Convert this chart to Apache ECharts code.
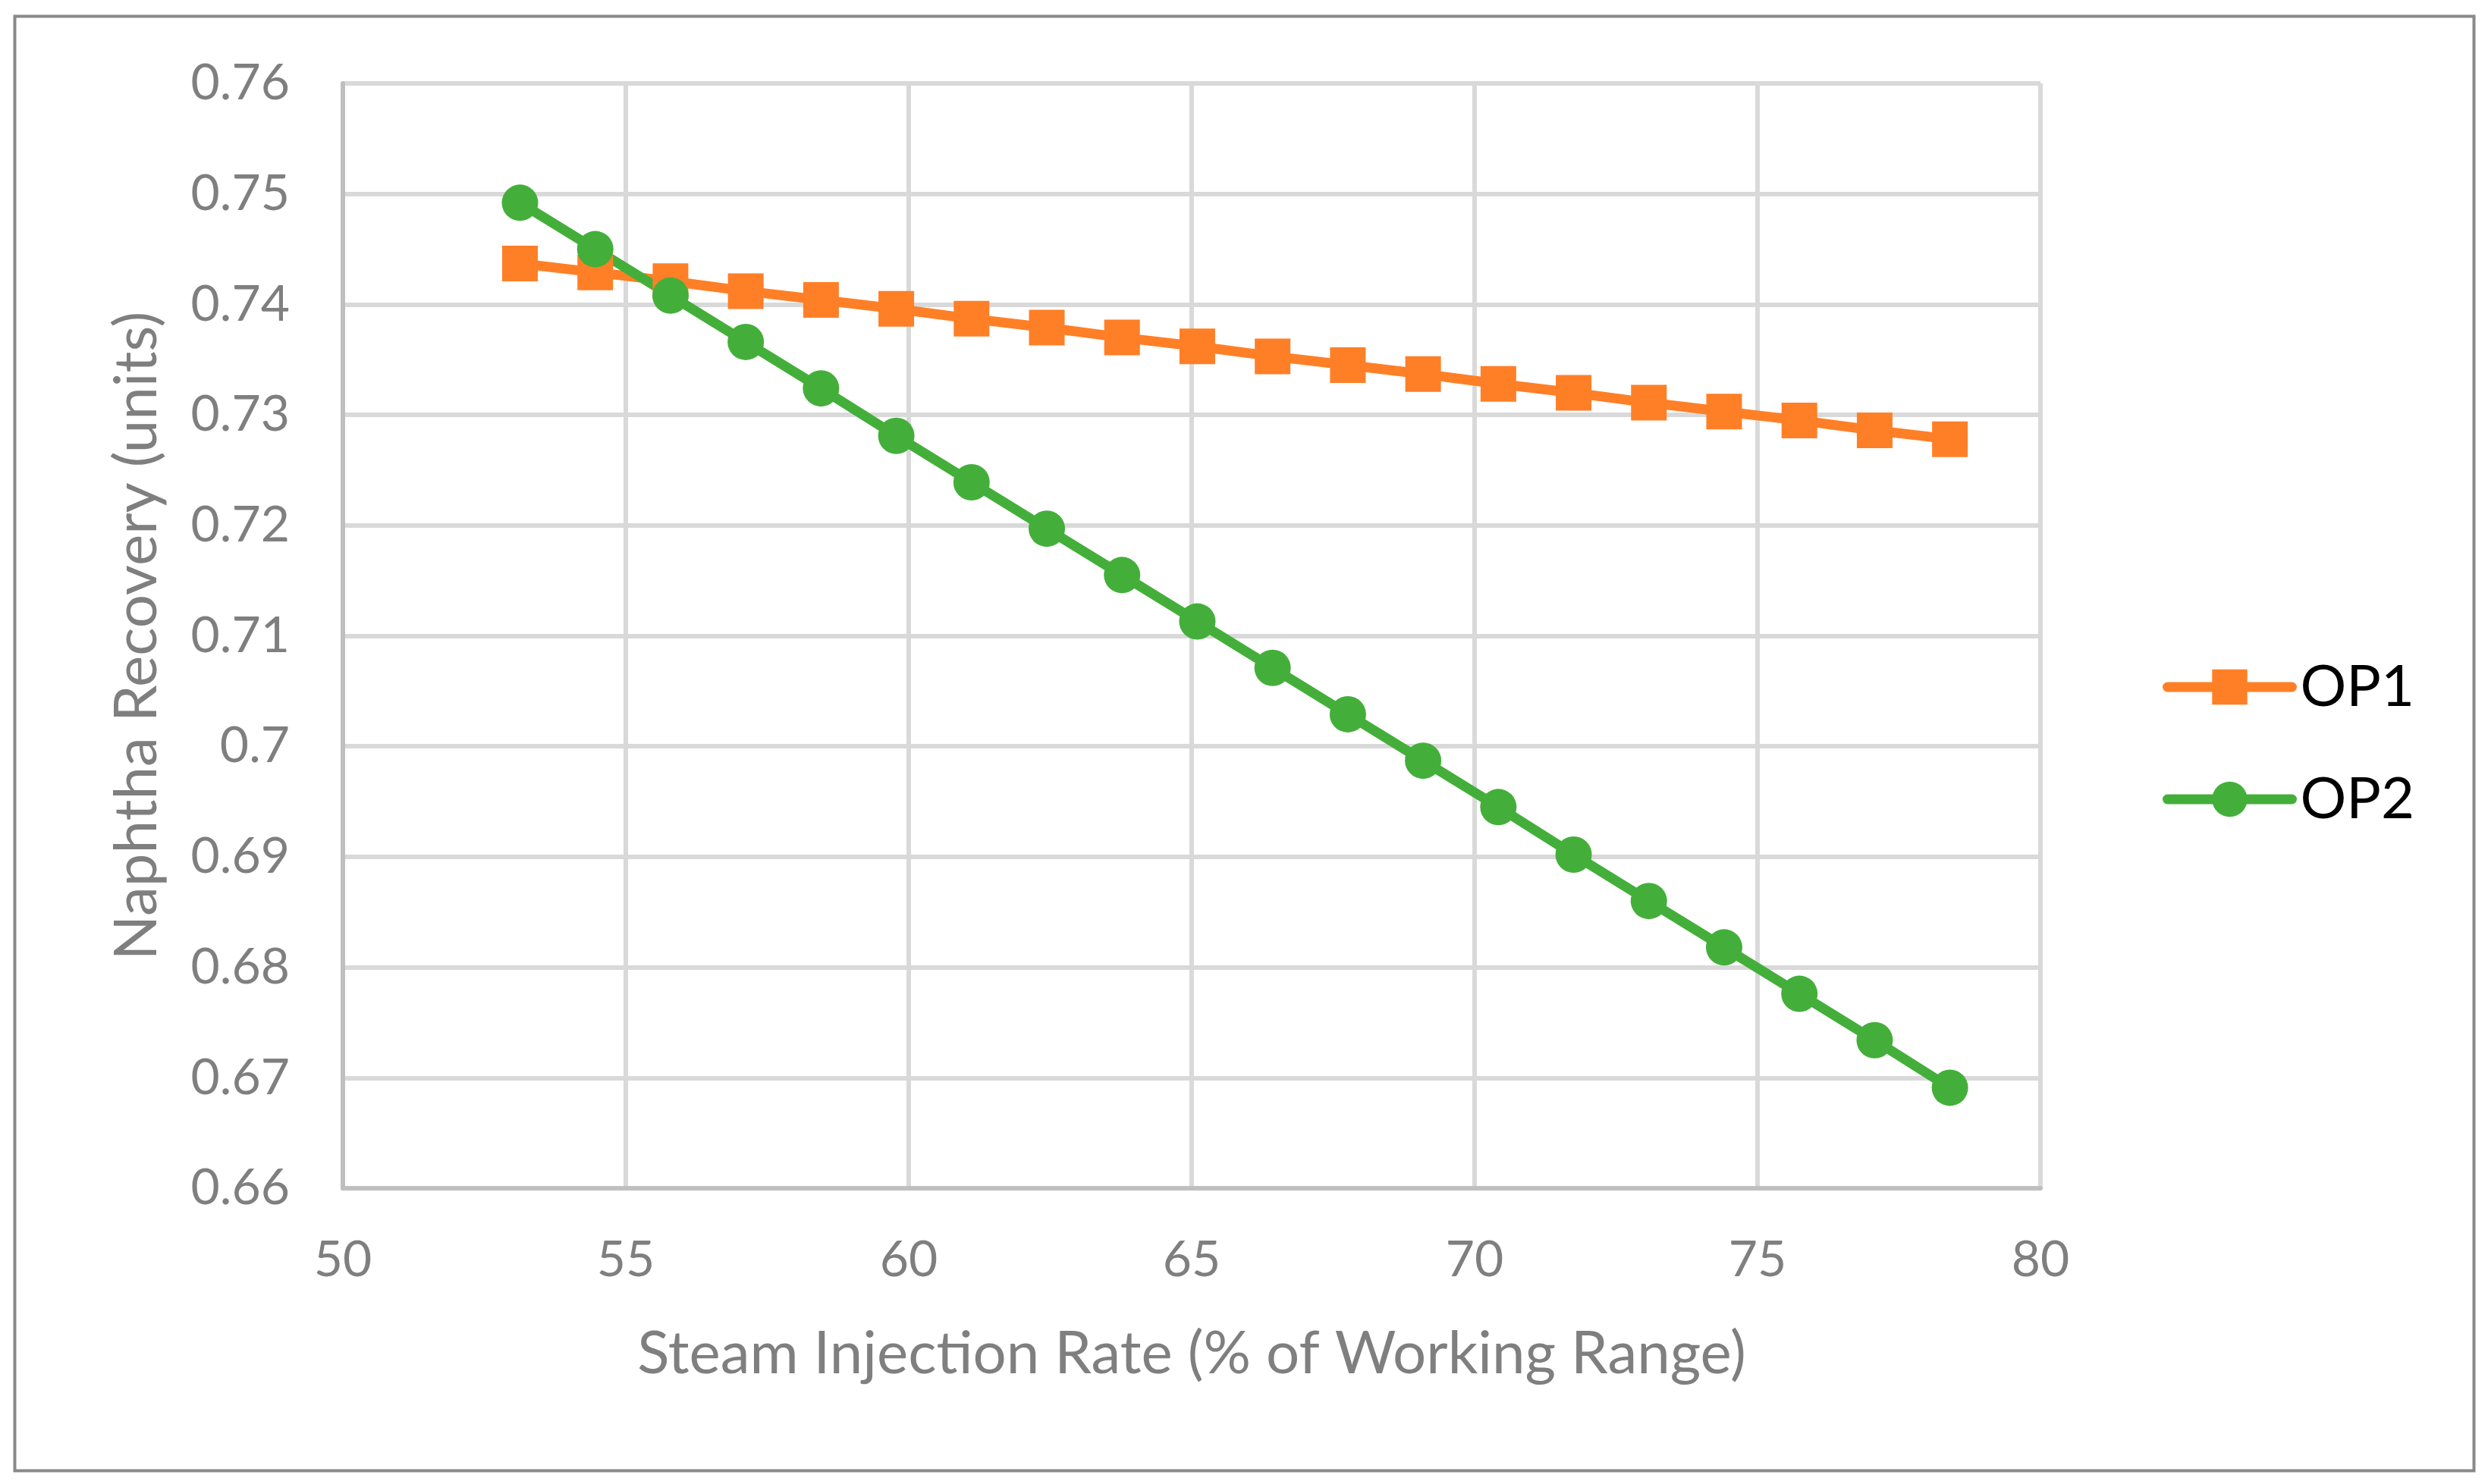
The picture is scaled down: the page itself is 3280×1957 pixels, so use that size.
<!DOCTYPE html>
<html>
<head>
<meta charset="utf-8">
<script src="https://cdn.jsdelivr.net/npm/echarts@6/dist/echarts.min.js"></script>
<style>
html,body{margin:0;padding:0;background:#fff;}
#chart{width:3280px;height:1957px;}
</style>
</head>
<body>
<div id="chart"></div>
<script>
const steamRate = [53.13, 54.46, 55.79, 57.12, 58.45, 59.78, 61.11, 62.44, 63.77, 65.10,
                   66.43, 67.76, 69.09, 70.42, 71.75, 73.08, 74.41, 75.74, 77.07, 78.40];
const op1 = [0.7437, 0.7429, 0.7421, 0.7412, 0.7404, 0.7396, 0.7387, 0.7379, 0.7370, 0.7362,
             0.7353, 0.7345, 0.7337, 0.7328, 0.7320, 0.7311, 0.7303, 0.7295, 0.7286, 0.7278];
const op2 = [0.7492, 0.7450, 0.7408, 0.7366, 0.7324, 0.7281, 0.7239, 0.7197, 0.7155, 0.7113,
             0.7071, 0.7029, 0.6987, 0.6945, 0.6902, 0.6860, 0.6818, 0.6776, 0.6734, 0.6691];
const seriesNames = ['OP1', 'OP2'];
const xTitle = 'Steam Injection Rate (% of Working Range)';
const yTitle = 'Naphtha Recovery (units)';

const FONT = 'Lato';
const chart = echarts.init(document.getElementById('chart'), null, {renderer: 'canvas'});
chart.setOption({
  animation: false,
  backgroundColor: '#ffffff',
  graphic: [{
    type: 'rect', left: 17, top: 19,
    shape: {width: 3242, height: 1918},
    style: {fill: 'none', stroke: '#898989', lineWidth: 4},
    silent: true, z: -1
  }],
  grid: {left: 452, right: 590, top: 110, bottom: 390, containLabel: false},
  legend: {
    orient: 'vertical', left: 2846, top: 863,
    itemWidth: 164, itemHeight: 58, itemGap: 72,
    lineStyle: {width: 13, cap: 'round'},
    textStyle: {fontFamily: FONT, fontSize: 76, color: '#000000', padding: [0, 0, 0, 6]},
    data: seriesNames
  },
  xAxis: {
    type: 'value', min: 50, max: 80, interval: 5,
    name: xTitle, nameLocation: 'middle', nameGap: 180,
    nameTextStyle: {fontFamily: FONT, fontSize: 78, color: '#7f7f7f'},
    axisLine: {show: true, lineStyle: {color: '#bfbfbf', width: 6}},
    axisTick: {show: false},
    axisLabel: {fontFamily: FONT, fontSize: 66, color: '#7f7f7f', margin: 62},
    splitLine: {show: true, lineStyle: {color: '#d9d9d9', width: 6}}
  },
  yAxis: {
    type: 'value', min: 0.66, max: 0.76, interval: 0.01,
    name: yTitle, nameLocation: 'middle', nameGap: 232,
    nameTextStyle: {fontFamily: FONT, fontSize: 78, color: '#7f7f7f'},
    axisLine: {show: true, lineStyle: {color: '#bfbfbf', width: 6}},
    axisTick: {show: false},
    axisLabel: {fontFamily: FONT, fontSize: 66, color: '#7f7f7f', margin: 70,
      formatter: v => String(+v.toFixed(2))},
    splitLine: {show: true, lineStyle: {color: '#d9d9d9', width: 6}}
  },
  series: [
    {
      name: seriesNames[0], type: 'line',
      data: steamRate.map((x, i) => [x, op1[i]]),
      symbol: 'rect', symbolSize: 47,
      itemStyle: {color: '#ff7f27'},
      lineStyle: {color: '#ff7f27', width: 13}
    },
    {
      name: seriesNames[1], type: 'line',
      data: steamRate.map((x, i) => [x, op2[i]]),
      symbol: 'circle', symbolSize: 48,
      itemStyle: {color: '#43af3a'},
      lineStyle: {color: '#43af3a', width: 13}
    }
  ]
});
</script>
</body>
</html>
